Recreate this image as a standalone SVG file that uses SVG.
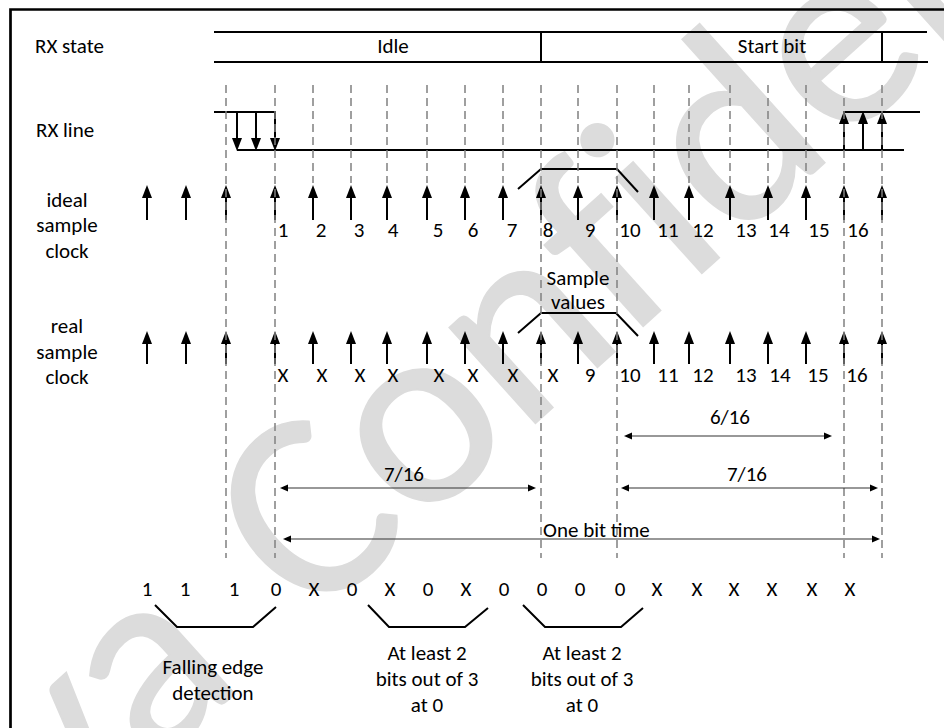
<svg xmlns="http://www.w3.org/2000/svg" width="944" height="728" viewBox="0 0 944 728">
<style>
text{font-family:Carlito,Lato,"Open Sans",sans-serif;font-size:21px;fill:#000}
.c{text-anchor:middle}
.wm{font-family:Carlito,Lato,sans-serif;font-size:269px;fill:#dcdcdc;stroke:#dcdcdc;stroke-width:2}
.dash{stroke:#808080;stroke-width:1.5;stroke-dasharray:8 5;fill:none}
.clk{stroke:#000;stroke-width:2;fill:none;marker-end:url(#ah)}
.ln{stroke:#000;stroke-width:2;fill:none}
.dim{stroke:#333;stroke-width:1.2;fill:none;marker-end:url(#sh);marker-start:url(#sh)}
.br{stroke:#000;stroke-width:2;fill:none}
</style>
<defs>
<marker id="ah" markerUnits="userSpaceOnUse" markerWidth="13" markerHeight="10" refX="0" refY="5" orient="auto" overflow="visible"><path d="M0,0 L13,5 L0,10 Z" fill="#000"/></marker>
<marker id="sh" markerUnits="userSpaceOnUse" markerWidth="8" markerHeight="7" refX="0" refY="3.5" orient="auto-start-reverse" overflow="visible"><path d="M0,0 L8,3.5 L0,7 Z" fill="#000"/></marker>
</defs>
<rect width="944" height="728" fill="#fff"/>
<g id="watermark">
<text class="wm" transform="translate(310,626) rotate(-42)" x="0 143 285 426 508 570 711 845 986 1077 1138 1267" y="0">Confidential</text>
<text class="wm" transform="translate(310,626) rotate(-42)" x="-85" y="0" text-anchor="end">va</text>
</g>
<g id="frame"><polyline points="10.5,728 10.5,9.5 944,9.5" fill="none" stroke="#000" stroke-width="2.7"/></g>
<g id="row-labels">
<text x="35" y="53">RX state</text>
<text x="36" y="137">RX line</text>
<text class="c" x="67" y="207">ideal</text>
<text class="c" x="67" y="232">sample</text>
<text class="c" x="67" y="258">clock</text>
<text class="c" x="67" y="333">real</text>
<text class="c" x="67" y="359">sample</text>
<text class="c" x="67" y="384">clock</text>
</g>
<g id="rx-state">
<line class="ln" x1="214" y1="32" x2="927" y2="32"/>
<line class="ln" x1="214" y1="62" x2="928" y2="62"/>
<line class="ln" x1="541" y1="32" x2="541" y2="62"/>
<line class="ln" x1="882" y1="32" x2="882" y2="62"/>
<text class="c" x="393" y="53">Idle</text>
<text class="c" x="772" y="53">Start bit</text>
</g>
<g id="rx-line">
<polyline class="ln" points="214,112 275,112 275,138"/>
<line class="ln" x1="237" y1="150" x2="904" y2="150"/>
<line class="clk" x1="237" y1="112" x2="237" y2="138"/>
<line class="clk" x1="256" y1="112" x2="256" y2="138"/>
<line class="clk" x1="275" y1="112" x2="275" y2="138"/>
<polyline class="ln" points="844,124 844,112 920,112"/>
<line class="clk" x1="844" y1="150" x2="844" y2="124"/>
<line class="clk" x1="863" y1="150" x2="863" y2="124"/>
<line class="clk" x1="882" y1="150" x2="882" y2="124"/>
</g>
<g id="ideal-clock">
<path class="clk" d="M147,220V198"/><path class="clk" d="M186,220V198"/><path class="clk" d="M226,220V198"/><path class="clk" d="M275,220V198"/><path class="clk" d="M313,220V198"/><path class="clk" d="M351,220V198"/><path class="clk" d="M387,220V198"/><path class="clk" d="M427,220V198"/><path class="clk" d="M465,220V198"/><path class="clk" d="M503,220V198"/><path class="clk" d="M541,220V198"/><path class="clk" d="M578,220V198"/><path class="clk" d="M617,220V198"/><path class="clk" d="M654,220V198"/><path class="clk" d="M689,220V198"/><path class="clk" d="M730,220V198"/><path class="clk" d="M768,220V198"/><path class="clk" d="M806,220V198"/><path class="clk" d="M844,220V198"/><path class="clk" d="M882,220V198"/>
<polyline class="br" points="518,189 541,169 617,169 638,192"/>
<text class="c" x="283" y="237">1</text><text class="c" x="321" y="237">2</text><text class="c" x="359" y="237">3</text><text class="c" x="393" y="237">4</text><text class="c" x="438" y="237">5</text><text class="c" x="473" y="237">6</text><text class="c" x="512" y="237">7</text><text class="c" x="548" y="237">8</text><text class="c" x="590" y="237">9</text><text class="c" x="630" y="237">10</text><text class="c" x="668" y="237">11</text><text class="c" x="703" y="237">12</text><text class="c" x="746" y="237">13</text><text class="c" x="779" y="237">14</text><text class="c" x="819" y="237">15</text><text class="c" x="858" y="237">16</text>
</g>
<g id="real-clock">
<path class="clk" d="M147,364V344"/><path class="clk" d="M186,364V344"/><path class="clk" d="M226,364V344"/><path class="clk" d="M275,364V344"/><path class="clk" d="M313,364V344"/><path class="clk" d="M351,364V344"/><path class="clk" d="M387,364V344"/><path class="clk" d="M427,364V344"/><path class="clk" d="M465,364V344"/><path class="clk" d="M503,364V344"/><path class="clk" d="M541,364V344"/><path class="clk" d="M578,364V344"/><path class="clk" d="M617,364V344"/><path class="clk" d="M654,364V344"/><path class="clk" d="M689,364V344"/><path class="clk" d="M730,364V344"/><path class="clk" d="M768,364V344"/><path class="clk" d="M806,364V344"/><path class="clk" d="M844,364V344"/><path class="clk" d="M882,364V344"/>
<polyline class="br" points="518,333 541,313 616,313 638,336"/>
<text class="c" x="578" y="285">Sample</text>
<text class="c" x="578" y="309">values</text>
<text class="c" x="283" y="382">X</text><text class="c" x="322" y="382">X</text><text class="c" x="360" y="382">X</text><text class="c" x="393" y="382">X</text><text class="c" x="439" y="382">X</text><text class="c" x="473" y="382">X</text><text class="c" x="513" y="382">X</text><text class="c" x="553" y="382">X</text><text class="c" x="590" y="382">9</text><text class="c" x="630" y="382">10</text><text class="c" x="668" y="382">11</text><text class="c" x="703" y="382">12</text><text class="c" x="746" y="382">13</text><text class="c" x="780" y="382">14</text><text class="c" x="818" y="382">15</text><text class="c" x="857" y="382">16</text>
</g>
<g id="connectors">
<path class="dash" d="M226,85V558M275,85V558M541,85V558M617,85V558M844,85V558M882,85V558"/>
<path class="dash" d="M313,85V183M351,85V183M387,85V183M427,85V183M465,85V183M503,85V183M578,85V183M654,85V183M689,85V183M730,85V183M768,85V183M806,85V183"/>
<line class="dim" x1="632" y1="436" x2="824" y2="436"/>
<line class="dim" x1="288" y1="488" x2="528" y2="488"/>
<line class="dim" x1="629" y1="488" x2="870" y2="488"/>
<line class="dim" x1="291" y1="539" x2="872" y2="539"/>
</g>
<g id="dimension-labels">
<text class="c" x="730" y="424">6/16</text>
<text class="c" x="404" y="481">7/16</text>
<text class="c" x="747" y="481">7/16</text>
<text x="543" y="537">One bit time</text>
</g>
<g id="bit-values">
<text class="c" x="147" y="596">1</text><text class="c" x="185" y="596">1</text><text class="c" x="234" y="596">1</text><text class="c" x="276" y="596">0</text><text class="c" x="314" y="596">X</text><text class="c" x="352" y="596">0</text><text class="c" x="390" y="596">X</text><text class="c" x="428" y="596">0</text><text class="c" x="466" y="596">X</text><text class="c" x="504" y="596">0</text><text class="c" x="542" y="596">0</text><text class="c" x="580" y="596">0</text><text class="c" x="620" y="596">0</text><text class="c" x="657" y="596">X</text><text class="c" x="697" y="596">X</text><text class="c" x="734" y="596">X</text><text class="c" x="772" y="596">X</text><text class="c" x="812" y="596">X</text><text class="c" x="850" y="596">X</text>
</g>
<g id="falling-edge">
<polyline class="br" points="155,605 177,627 253,627 276,607"/>
<text class="c" x="213" y="674">Falling edge</text>
<text class="c" x="213" y="700">detection</text>
</g>
<g id="majority-1">
<polyline class="br" points="368,605 389,627 465,627 488,608"/>
<text class="c" x="427" y="660">At least 2</text>
<text class="c" x="427" y="686">bits out of 3</text>
<text class="c" x="427" y="712">at 0</text>
</g>
<g id="majority-2">
<polyline class="br" points="523,605 545,627 621,627 643,608"/>
<text class="c" x="582" y="660">At least 2</text>
<text class="c" x="582" y="686">bits out of 3</text>
<text class="c" x="582" y="712">at 0</text>
</g>
</svg>
